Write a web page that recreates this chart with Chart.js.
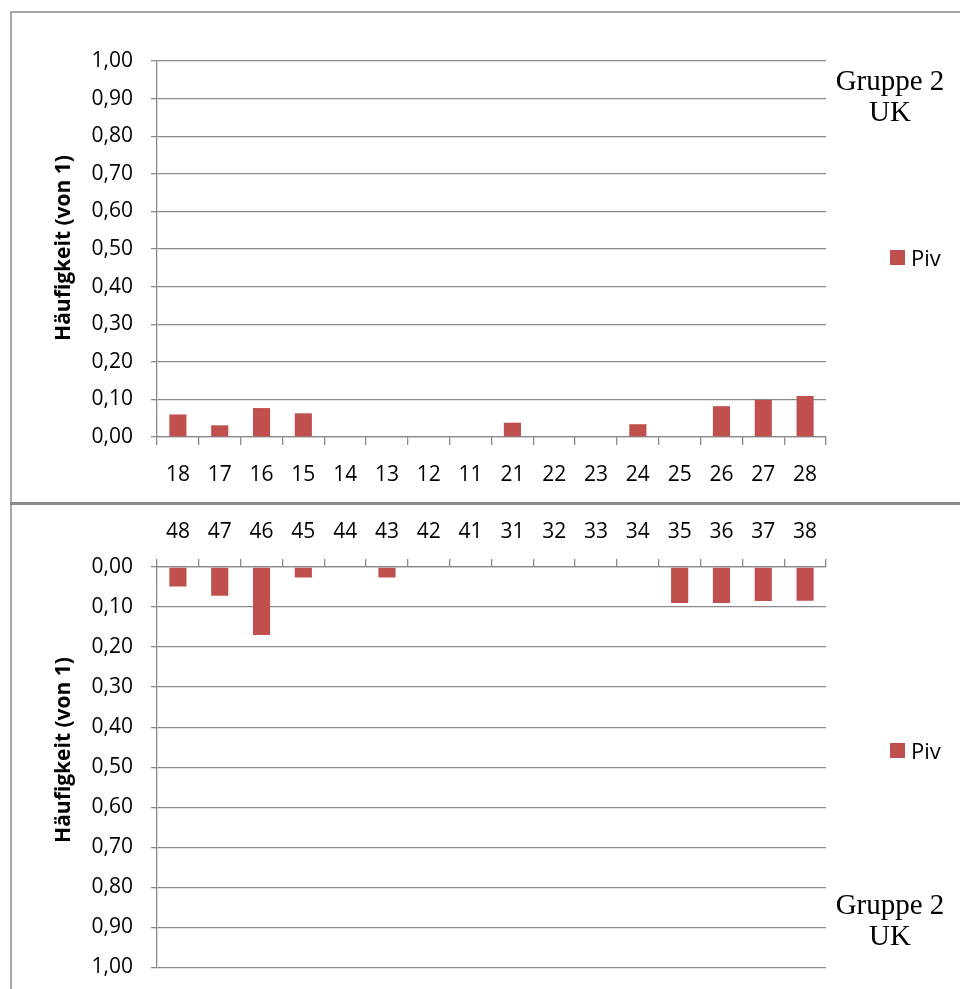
<!DOCTYPE html>
<html>
<head>
<meta charset="utf-8">
<script src="https://cdn.jsdelivr.net/npm/chart.js@4.4.1/dist/chart.umd.min.js"></script>
<style>
  body{ margin:0; background:#fff; width:960px; height:989px; overflow:hidden; position:relative; font-family:"Open Sans", sans-serif; }
  .frame{ position:absolute; border-style:solid; border-width:0; }
  .wrap{ position:absolute; left:0; width:960px; }
  .note{ position:absolute; width:140px; text-align:center; font-family:"Liberation Serif", serif; font-size:29px; line-height:31px; color:#000; }
  .legend{ position:absolute; left:890px; font-size:22px; line-height:26px; color:#000; display:flex; align-items:center; }
  .legend i{ display:inline-block; width:15px; height:15px; background:#C0504D; margin-right:6px; }
  .ytitle{ position:absolute; width:300px; height:30px; line-height:30px; text-align:center; font-weight:bold; font-size:21px; color:#000; transform:rotate(-90deg); }
</style>
</head>
<body>
<div class="frame" style="left:10px;top:11px;width:960px;height:990px;border-left:2px solid #a6a6a6;border-top:2px solid #a6a6a6;"></div>
<div class="frame" style="left:10px;top:502px;width:960px;height:0;border-top:3px solid #8a8a8a;"></div>

<div class="wrap" style="top:0;height:497px;"><canvas id="upperChart"></canvas></div>
<div class="wrap" style="top:497px;height:501px;"><canvas id="lowerChart"></canvas></div>

<div class="note" style="left:820px;top:65px;">Gruppe 2<br>UK</div>
<div class="note" style="left:820px;top:889px;">Gruppe 2<br>UK</div>
<div class="legend" id="legendUpper" style="top:244px;"></div>
<div class="legend" id="legendLower" style="top:737px;"></div>
<div class="ytitle" id="titleUpper" style="left:-88px;top:233px;"></div>
<div class="ytitle" id="titleLower" style="left:-88px;top:735px;"></div>

<script>
// upper jaw (teeth 18..28)
const upperLabels = ["18","17","16","15","14","13","12","11","21","22","23","24","25","26","27","28"];
const upperPiv = [0.06, 0.031, 0.077, 0.063, 0, 0, 0, 0, 0.038, 0, 0, 0.034, 0, 0.082, 0.099, 0.109];

// lower jaw (teeth 48..38)
const lowerLabels = ["48","47","46","45","44","43","42","41","31","32","33","34","35","36","37","38"];
const lowerPiv = [0.049, 0.072, 0.17, 0.026, 0, 0.026, 0, 0, 0, 0, 0, 0, 0.09, 0.09, 0.085, 0.084];

const seriesName = "Piv";
const axisTitle = "Häufigkeit (von 1)";
const barColor = "#C0504D";
const gridColor = "#8a8a8a";

Chart.defaults.font.family = "'Open Sans', sans-serif";
Chart.defaults.color = "#000";

function makeChart(id, labels, values, lower){
    const ctx = document.getElementById(id).getContext("2d");
    return new Chart(ctx, {
        type:"bar",
        data:{ labels, datasets:[{ label: seriesName, data: values, backgroundColor: barColor, barPercentage:.41, categoryPercentage:1 }]},
        options:{
            responsive:true, maintainAspectRatio:false, animation:false,
            layout:{ padding: lower ? { left:0, top:0, right:134, bottom:10 } : { left:0, top:61, right:134, bottom:0 } },
            plugins:{ legend:{ display:false }, tooltip:{ enabled:false } },
            scales:{
                x:{
                    position: lower ? "top" : "bottom",
                    grid:{ offset:true, drawOnChartArea:false, drawTicks:true, tickLength:8, color:gridColor, lineWidth:1.3 },
                    border:{ color:gridColor, width:1.3 },
                    ticks:{ font:{ size:21 }, padding: lower ? 14 : 17, maxRotation:0 },
                    afterFit: s => { s.height = lower ? 70 : 60; }
                },
                y:{
                    min:0, max:1, reverse: lower,
                    ticks:{ stepSize:0.1, font:{ size:21 }, padding:18, callback: v => v.toFixed(2).replace(".", ",") },
                    grid:{ color:gridColor, lineWidth:1.3, tickLength:6 },
                    border:{ color:gridColor, width:1.3 },
                    afterFit: s => { s.width = 157; }
                }
            }
        }
    });
}

makeChart("upperChart", upperLabels, upperPiv, false);
makeChart("lowerChart", lowerLabels, lowerPiv, true);

["legendUpper","legendLower"].forEach(id=>{
    document.getElementById(id).innerHTML = `<i></i><span>${seriesName}</span>`;
});
["titleUpper","titleLower"].forEach(id=>{
    document.getElementById(id).textContent = axisTitle;
});
</script>
</body>
</html>
